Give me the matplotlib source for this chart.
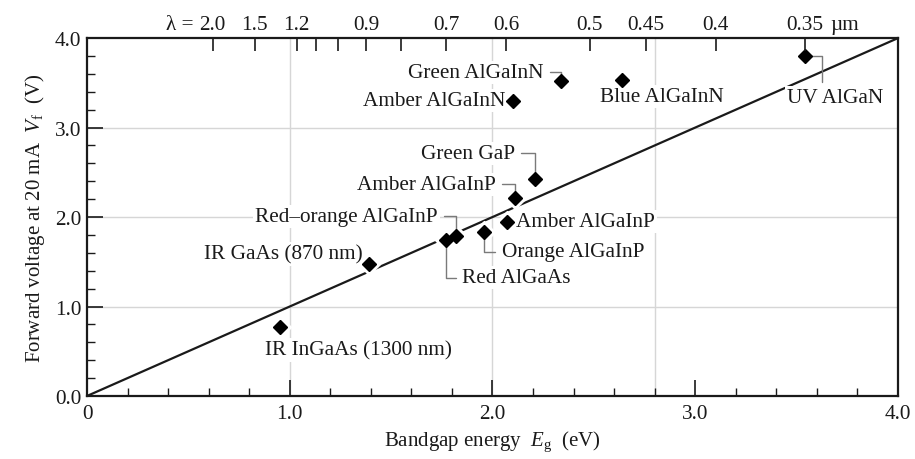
import numpy as np
import matplotlib.pyplot as plt
from matplotlib.ticker import MultipleLocator

plt.rcParams['font.family'] = ['Liberation Serif', 'DejaVu Serif']
plt.rcParams['mathtext.fontset'] = 'custom'
plt.rcParams['mathtext.rm'] = 'Liberation Serif'
plt.rcParams['mathtext.it'] = 'Liberation Serif:italic'

# LED data: bandgap energy (eV) vs forward voltage at 20 mA (V)
names = ["IR InGaAs (1300 nm)", "IR GaAs (870 nm)", "Red AlGaAs",
         "Red\u2013orange AlGaInP", "Orange AlGaInP", "Amber AlGaInP",
         "Amber AlGaInP", "Green GaP", "Amber AlGaInN", "Green AlGaInN",
         "Blue AlGaInN", "UV AlGaN"]
bandgap = [0.95, 1.39, 1.77, 1.82, 1.96, 2.07, 2.11, 2.21, 2.10, 2.34, 2.64, 3.54]
vf = [0.77, 1.47, 1.74, 1.79, 1.83, 1.95, 2.21, 2.42, 3.30, 3.52, 3.53, 3.80]

# V = Eg/e line
line_e = [0.0, 4.0]
line_v = [0.0, 4.0]

# top axis wavelengths (um)
wavelengths = [2.0, 1.5, 1.2, 1.1, 1.0, 0.9, 0.8, 0.7, 0.6, 0.5, 0.45, 0.4, 0.35]
wl_labels = ["2.0", "1.5", "1.2", "", "", "0.9", "", "0.7", "0.6", "0.5", "0.45", "0.4", "0.35"]

x_ticks = [0, 1, 2, 3, 4]
x_ticklabels = ["0", "1.0", "2.0", "3.0", "4.0"]
y_ticks = [0, 1, 2, 3, 4]
y_ticklabels = ["0.0", "1.0", "2.0", "3.0", "4.0"]
grid_x = [1.0, 2.0, 2.8]
grid_y = [1.0, 2.0, 3.0]

# label layout: offset (pt), ha, leader (None / (angleA, angleB, relpos))
layout = [
    ((57, -16.5), 'center', None),
    ((-4.5, 7.5), 'right', None),
    ((11.5, -27.0), 'left', (0, 90, (0, 0.5))),
    ((-13.2, 14.0), 'right', (0, 90, (1, 0.5))),
    ((12.5, -14.0), 'left', (0, 90, (0, 0.5))),
    ((6.5, 0.0), 'left', None),
    ((-13.9, 10.0), 'right', (0, 90, (1, 0.5))),
    ((-14.4, 18.8), 'right', (0, 90, (1, 0.5))),
    ((-5.0, 0.0), 'right', None),
    ((-13.0, 6.3), 'right', (0, 90, (1, 0.5))),
    ((28.3, -12.0), 'center', None),
    ((21.8, -30.0), 'center', (90, 0, (0.37, 1))),
]

fs = 15.3
ink = '#1a1a1a'
fig = plt.figure(figsize=(9.15, 4.6), dpi=100)
ax = fig.add_axes([0.0951, 0.137, 0.8863, 0.778])

for g in grid_x:
    ax.axvline(g, color='#d6d6d6', lw=1.0, zorder=0)
for g in grid_y:
    ax.axhline(g, color='#d6d6d6', lw=1.0, zorder=0)

ax.plot(line_e, line_v, color=ink, lw=1.6, zorder=2)

# white halo behind markers, then black diamonds
ax.plot(bandgap, vf, 'D', color='white', markersize=11, zorder=3, linestyle='none')
ax.plot(bandgap, vf, 'D', color='black', markersize=6.8, zorder=5, linestyle='none')

for name, e, v, (off, ha, leader) in zip(names, bandgap, vf, layout):
    kw = dict(xy=(e, v), xytext=off, textcoords='offset points', ha=ha, va='center',
              fontsize=fs, color=ink, zorder=4,
              bbox=dict(boxstyle='square,pad=0.1', fc='white', ec='none'))
    if leader is not None:
        aA, aB, rp = leader
        kw['arrowprops'] = dict(arrowstyle='-', color='#7a7a7a', lw=1.0,
                                connectionstyle='angle,angleA=%d,angleB=%d,rad=0' % (aA, aB),
                                shrinkA=3, shrinkB=0, relpos=rp)
    ax.annotate(name, **kw)

ax.set_xlim(0, 4)
ax.set_ylim(0, 4)
ax.set_xticks(x_ticks)
ax.set_xticklabels(x_ticklabels)
ax.set_yticks(y_ticks)
ax.set_yticklabels(y_ticklabels)
ax.xaxis.set_minor_locator(MultipleLocator(0.2))
ax.yaxis.set_minor_locator(MultipleLocator(0.2))
ax.tick_params(which='both', direction='in', colors=ink, labelsize=fs)
ax.tick_params(which='major', length=11.5, width=1.2)
ax.tick_params(which='minor', length=6, width=1.0)
ax.tick_params(axis='x', pad=6)
ax.tick_params(axis='y', pad=4)
for s in ax.spines.values():
    s.set_linewidth(1.6)
    s.set_color(ink)

ax.set_xlabel(r"Bandgap energy  $\mathit{E}_\mathrm{g}$  (eV)", fontsize=15, labelpad=4, color=ink)
ax.set_ylabel(r"Forward voltage at 20 mA  $\mathit{V}_\mathrm{f}$  (V)", fontsize=15, labelpad=6, color=ink)

# top wavelength axis
ax2 = ax.twiny()
ax2.set_xlim(0, 4)
ax2.set_xticks([1.24 / w for w in wavelengths])
ax2.set_xticklabels(wl_labels)
ax2.xaxis.set_minor_locator(plt.NullLocator())
ax2.tick_params(direction='in', length=9, width=1.2, pad=3, labelsize=fs, colors=ink)
for s in ax2.spines.values():
    s.set_visible(False)

ax2.annotate("\u03bb =", xy=(1.24 / wavelengths[0], 1), xycoords=('data', 'axes fraction'),
             xytext=(-14, 3), textcoords='offset points', ha='right', va='bottom',
             fontsize=fs, color=ink)
ax2.annotate("\u00b5m", xy=(1.24 / wavelengths[-1], 1), xycoords=('data', 'axes fraction'),
             xytext=(18, 3), textcoords='offset points', ha='left', va='bottom',
             fontsize=fs, color=ink)

fig.savefig("out.png", dpi=100)
